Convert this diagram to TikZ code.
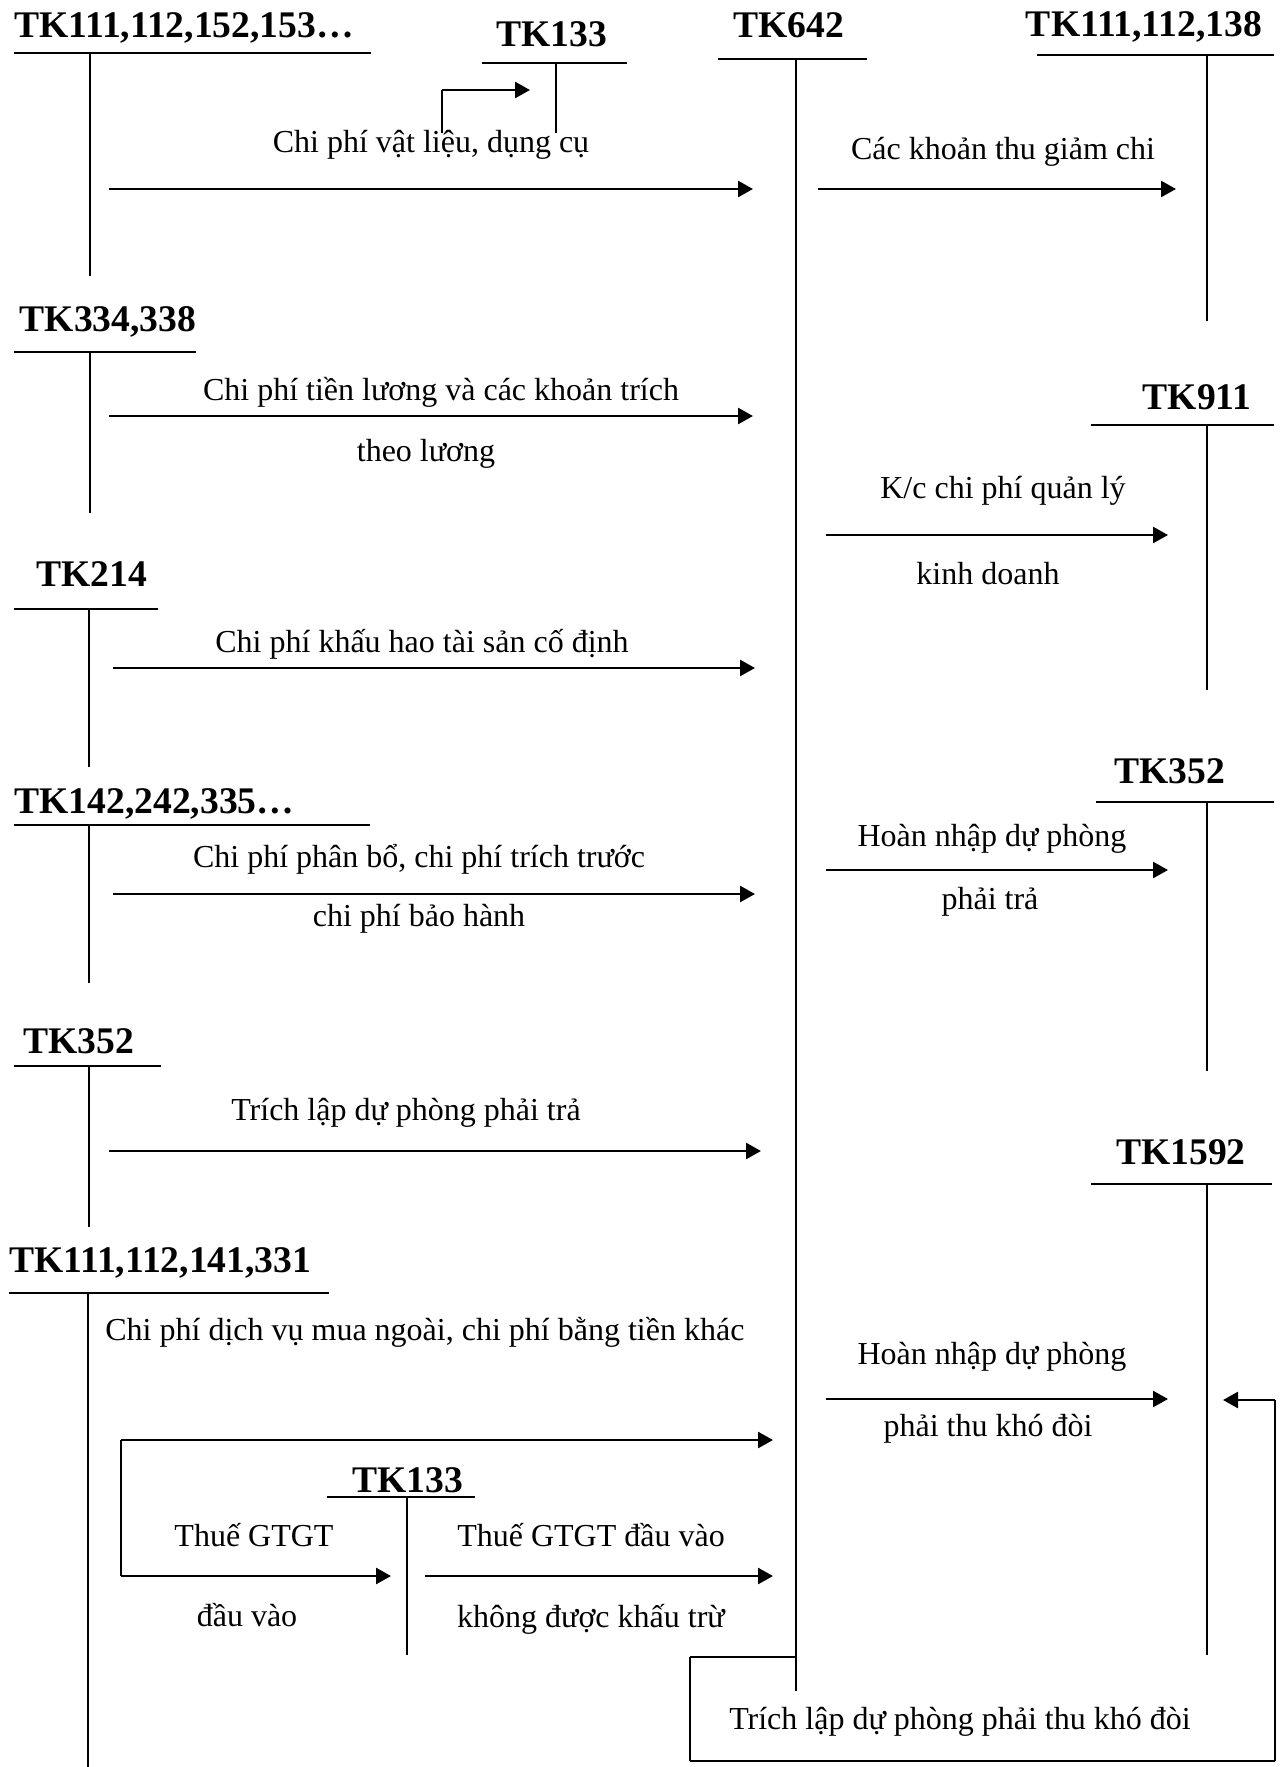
\documentclass[tikz,border=0pt]{standalone}
\usepackage{fontspec}
\setmainfont{Liberation Serif}
\usetikzlibrary{arrows.meta}
\begin{document}
\begin{tikzpicture}[x=0.5pt,y=-0.5pt,
  acct/.style={font=\fontsize{18.8}{21}\selectfont\bfseries, inner sep=0pt},
  lbl/.style={font=\fontsize{16}{18}\selectfont, inner sep=0pt},
  head/.style={line width=1.2pt},
  stem/.style={line width=0.9pt},
  flow/.style={line width=1.3pt, -{Triangle[length=7.5pt,width=8pt]}},
]
\useasboundingbox (0,0) rectangle (1284,1767);

% ---------- TK642 (central account) ----------
\node[acct] (t642) at (789,25) {TK642};
\coordinate (h642a) at (718,59); \coordinate (h642b) at (867,59);
\coordinate (s642a) at (796,59); \coordinate (s642b) at (796,1691);
\draw[head] (h642a) -- (h642b);
\draw[stem] (s642a) -- (s642b);

% ---------- TK111,112,152,153... ----------
\node[acct, anchor=west] (t111a) at (14,28) {TK111,112,152,153…};
\coordinate (h111a1) at (14,53); \coordinate (h111a2) at (371,53);
\coordinate (s111a1) at (90,53); \coordinate (s111a2) at (90,276);
\draw[head] (h111a1) -- (h111a2);
\draw[stem] (s111a1) -- (s111a2);

% ---------- TK133 (top) ----------
\node[acct] (t133a) at (552,34) {TK133};
\coordinate (h133a1) at (482,63); \coordinate (h133a2) at (627,63);
\coordinate (s133a1) at (556,63); \coordinate (s133a2) at (556,133);
\draw[head] (h133a1) -- (h133a2);
\draw[stem] (s133a1) -- (s133a2);
\coordinate (v133a) at (442,133); \coordinate (v133c) at (442,90);
\coordinate (v133b) at (530,90);
\draw[stem] (v133a) -- (v133c);
\draw[flow] (v133c) -- (v133b);

% ---------- TK111,112,138 ----------
\node[acct] (t111b) at (1144,27) {TK111,112,138};
\coordinate (h111b1) at (1037,55); \coordinate (h111b2) at (1274,55);
\coordinate (s111b1) at (1207,55); \coordinate (s111b2) at (1207,321);
\draw[head] (h111b1) -- (h111b2);
\draw[stem] (s111b1) -- (s111b2);

% materials and tools
\node[lbl] (l1) at (431,145) {Chi phí vật liệu, dụng cụ};
\coordinate (a1s) at (109,189); \coordinate (a1e) at (753,189);
\draw[flow] (a1s) -- (a1e);

% expense reductions
\node[lbl] (l2) at (1003,152) {Các khoản thu giảm chi};
\coordinate (a2s) at (818,189); \coordinate (a2e) at (1176,189);
\draw[flow] (a2s) -- (a2e);

% ---------- TK334,338 ----------
\node[acct] (t334) at (108,322) {TK334,338};
\coordinate (h334a) at (14,352); \coordinate (h334b) at (196,352);
\coordinate (s334a) at (90,352); \coordinate (s334b) at (90,513);
\draw[head] (h334a) -- (h334b);
\draw[stem] (s334a) -- (s334b);
\node[lbl] (l3a) at (441,392) {Chi phí tiền lương và các khoản trích};
\node[lbl] (l3b) at (426,454) {theo lương};
\coordinate (a3s) at (109,416); \coordinate (a3e) at (753,416);
\draw[flow] (a3s) -- (a3e);

% ---------- TK911 ----------
\node[acct] (t911) at (1197,397) {TK911};
\coordinate (h911a) at (1091,425); \coordinate (h911b) at (1274,425);
\coordinate (s911a) at (1207,425); \coordinate (s911b) at (1207,690);
\draw[head] (h911a) -- (h911b);
\draw[stem] (s911a) -- (s911b);
\node[lbl] (l4a) at (1003,491) {K/c chi phí quản lý};
\node[lbl] (l4b) at (988,574) {kinh doanh};
\coordinate (a4s) at (826,535); \coordinate (a4e) at (1168,535);
\draw[flow] (a4s) -- (a4e);

% ---------- TK214 ----------
\node[acct] (t214) at (92,574) {TK214};
\coordinate (h214a) at (14,609); \coordinate (h214b) at (158,609);
\coordinate (s214a) at (89,609); \coordinate (s214b) at (89,767);
\draw[head] (h214a) -- (h214b);
\draw[stem] (s214a) -- (s214b);
\node[lbl] (l5) at (422,644) {Chi phí khấu hao tài sản cố định};
\coordinate (a5s) at (113,668); \coordinate (a5e) at (755,668);
\draw[flow] (a5s) -- (a5e);

% ---------- TK352 (right) ----------
\node[acct] (t352b) at (1170,771) {TK352};
\coordinate (h352b1) at (1096,802); \coordinate (h352b2) at (1274,802);
\coordinate (s352b1) at (1207,802); \coordinate (s352b2) at (1207,1071);
\draw[head] (h352b1) -- (h352b2);
\draw[stem] (s352b1) -- (s352b2);
\node[lbl] (l6a) at (992,839) {Hoàn nhập dự phòng};
\node[lbl] (l6b) at (990,902) {phải trả};
\coordinate (a6s) at (826,870); \coordinate (a6e) at (1168,870);
\draw[flow] (a6s) -- (a6e);

% ---------- TK142,242,335... ----------
\node[acct, anchor=west] (t142) at (14,804) {TK142,242,335…};
\coordinate (h142a) at (14,825); \coordinate (h142b) at (370,825);
\coordinate (s142a) at (89,825); \coordinate (s142b) at (89,983);
\draw[head] (h142a) -- (h142b);
\draw[stem] (s142a) -- (s142b);
\node[lbl] (l7a) at (419,859) {Chi phí phân bổ, chi phí trích trước};
\node[lbl] (l7b) at (419,919) {chi phí bảo hành};
\coordinate (a7s) at (113,894); \coordinate (a7e) at (755,894);
\draw[flow] (a7s) -- (a7e);

% ---------- TK352 (left) ----------
\node[acct] (t352a) at (79,1041) {TK352};
\coordinate (h352a1) at (14,1066); \coordinate (h352a2) at (161,1066);
\coordinate (s352a1) at (89,1066); \coordinate (s352a2) at (89,1227);
\draw[head] (h352a1) -- (h352a2);
\draw[stem] (s352a1) -- (s352a2);
\node[lbl] (l8) at (406,1113) {Trích lập dự phòng phải trả};
\coordinate (a8s) at (109,1151); \coordinate (a8e) at (761,1151);
\draw[flow] (a8s) -- (a8e);

% ---------- TK1592 ----------
\node[acct] (t1592) at (1181,1152) {TK1592};
\coordinate (h1592a) at (1091,1184); \coordinate (h1592b) at (1272,1184);
\coordinate (s1592a) at (1207,1184); \coordinate (s1592b) at (1207,1655);
\draw[head] (h1592a) -- (h1592b);
\draw[stem] (s1592a) -- (s1592b);
\node[lbl] (l9a) at (992,1357) {Hoàn nhập dự phòng};
\node[lbl] (l9b) at (988,1429) {phải thu khó đòi};
\coordinate (a9s) at (826,1399); \coordinate (a9e) at (1168,1399);
\draw[flow] (a9s) -- (a9e);

% ---------- TK111,112,141,331 ----------
\node[acct, anchor=west] (t111c) at (9,1263) {TK111,112,141,331};
\coordinate (h111c1) at (9,1293); \coordinate (h111c2) at (329,1293);
\coordinate (s111c1) at (88,1293); \coordinate (s111c2) at (88,1767);
\draw[head] (h111c1) -- (h111c2);
\draw[stem] (s111c1) -- (s111c2);
\node[lbl, anchor=west] (l10) at (105,1332) {Chi phí dịch vụ mua ngoài, chi phí bằng tiền khác};

% purchased services: split into TK642 and TK133
\coordinate (b0) at (121,1576); \coordinate (b1) at (121,1440);
\coordinate (b2) at (773,1440); \coordinate (b3) at (391,1576);
\draw[stem] (b0) -- (b1);
\draw[flow] (b1) -- (b2);
\draw[flow] (b0) -- (b3);

% ---------- TK133 (bottom) ----------
\node[acct] (t133b) at (408,1480) {TK133};
\coordinate (h133b1) at (327,1497); \coordinate (h133b2) at (475,1497);
\coordinate (s133b1) at (407,1497); \coordinate (s133b2) at (407,1655);
\draw[head] (h133b1) -- (h133b2);
\draw[stem] (s133b1) -- (s133b2);
\node[lbl] (l11a) at (254,1535) {Thuế GTGT};
\node[lbl] (l11b) at (247,1615) {đầu vào};
\node[lbl] (l12a) at (591,1535) {Thuế GTGT đầu vào};
\node[lbl] (l12b) at (591,1619) {không được khấu trừ};
\coordinate (a12s) at (425,1576); \coordinate (a12e) at (773,1576);
\draw[flow] (a12s) -- (a12e);

% provision for doubtful receivables: loop from TK642 around to TK1592
\coordinate (c1) at (796,1657); \coordinate (c2) at (690,1657);
\coordinate (c3) at (690,1761); \coordinate (c4) at (1275,1761);
\coordinate (c5) at (1275,1400); \coordinate (c6) at (1223,1400);
\draw[head] (c1) -- (c2);
\draw[stem] (c2) -- (c3);
\draw[head] (c3) -- (c4);
\draw[stem] (c4) -- (c5);
\draw[flow] (c5) -- (c6);
\node[lbl] (l13) at (960,1722) {Trích lập dự phòng phải thu khó đòi};

\end{tikzpicture}
\end{document}
